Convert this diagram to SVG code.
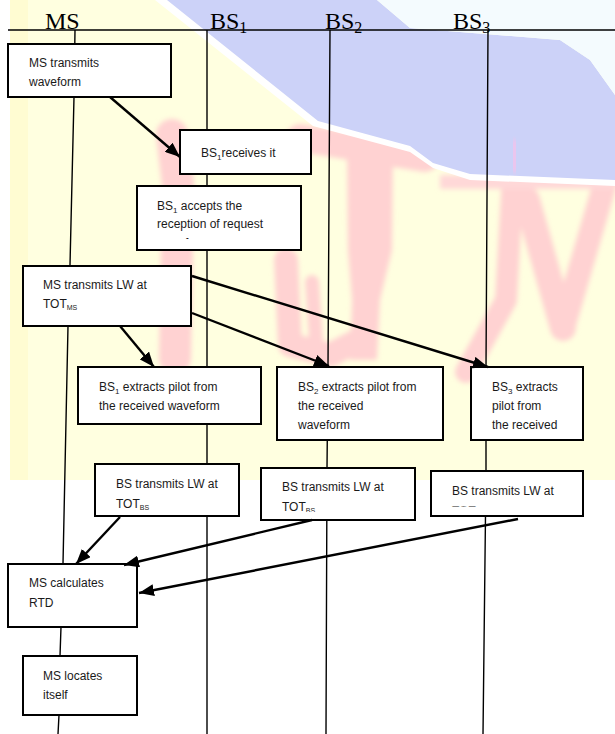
<svg xmlns="http://www.w3.org/2000/svg" width="615" height="734" viewBox="0 0 615 734">
<style>
.t{font-family:"Liberation Sans",Arial,sans-serif;font-size:12px;fill:#1a1a1a}
.h{font-family:"Liberation Serif","Times New Roman",serif;font-size:24px;fill:#000}
.hs{font-size:16px}
.box{fill:#fff;stroke:#000;stroke-width:2}
.life{fill:none;stroke:#000;stroke-width:1.4}
.arr{fill:none;stroke:#000;stroke-width:2.4;marker-end:url(#ah)}
.pk{fill:none;stroke:#FFD2D2;stroke-linejoin:round;stroke-linecap:round}
</style>
<defs>
<marker id="ah" markerUnits="userSpaceOnUse" markerWidth="15" markerHeight="12" refX="15" refY="6" orient="auto">
<path d="M0,0 L15,6 L0,12 z" fill="#000"/>
</marker>
<filter id="soft" x="-10%" y="-10%" width="120%" height="120%"><feGaussianBlur stdDeviation="2.5"/></filter>
<clipPath id="c3"><rect x="130" y="180" width="180" height="59"/></clipPath>
<clipPath id="c8"><rect x="90" y="470" width="160" height="40"/></clipPath>
<clipPath id="c9"><rect x="255" y="470" width="160" height="42"/></clipPath>
<clipPath id="c10"><rect x="425" y="470" width="160" height="36.5"/></clipPath>
</defs>

<g id="watermark">
<rect x="10" y="0" width="605" height="480" fill="#FFFFE0"/>
<rect x="10" y="0" width="18" height="480" fill="#FFFCD2"/>
<g filter="url(#soft)">
<polyline class="pk" points="172,135 178,185 175,358" stroke-width="32"/>
<polyline class="pk" points="300,138 425,158" stroke-width="28"/>
<polygon points="347,150 393,150 392,250 380,300 377,360 350,360 352,300 348,250" fill="#FFD2D2"/>
<polyline class="pk" points="286,260 290,345 330,355 355,342" stroke-width="24"/>
<polyline class="pk" points="312,282 316,340" stroke-width="14"/>
<polyline class="pk" points="515,140 506,300 466,372" stroke-width="22"/>
<polyline class="pk" points="527,200 563,328" stroke-width="26"/>
<polyline class="pk" points="563,328 606,180" stroke-width="24"/>
<rect x="440" y="175" width="175" height="14" fill="#FFD8D8"/>
</g>
<polygon points="155,0 377,0 410,28 560,40 590,60 615,95 615,186 470,180 433,168 410,152 313,126" fill="#FFFFFF"/>
<polygon points="167,0 377,0 410,28 560,40 590,60 615,95 615,180 470,174 433,163 410,146 318,121" fill="#CCD2F8"/>
<polygon points="377,0 615,0 615,95 590,60 560,40 410,28" fill="#F4FBFE"/>
<polyline points="515,140 514,172" stroke="#EAC6EE" stroke-width="18" fill="none" filter="url(#soft)"/>
</g>

<g id="header">
<line x1="8" y1="30" x2="615" y2="30" stroke="#000" stroke-width="1.6"/>
<text class="h" x="45" y="29">MS</text>
<text class="h" x="210" y="29">BS<tspan class="hs" dy="4">1</tspan></text>
<text class="h" x="325" y="29">BS<tspan class="hs" dy="4">2</tspan></text>
<text class="h" x="453" y="29">BS<tspan class="hs" dy="4">3</tspan></text>
</g>

<g id="lifelines">
<polyline class="life" points="75,30 74,97 70,265 68,326 63,564 61,627 60,656 59,715 58,734"/>
<polyline class="life" points="207,30 207,734"/>
<polyline class="life" points="330,30 328,367 327,468 326,734"/>
<polyline class="life" points="488,30 486,367 486,471 483,734"/>
</g>

<g id="n1">
<rect class="box" x="8" y="44" width="163" height="53"/>
<text class="t" x="29" y="67">MS transmits</text>
<text class="t" x="29" y="86">waveform</text>
</g>
<g id="n2">
<rect class="box" x="180" y="130" width="131" height="44"/>
<text class="t" x="201" y="157">BS<tspan font-size="8" dy="3">1</tspan><tspan dy="-3">receives it</tspan></text>
</g>
<g id="n3">
<rect class="box" x="137" y="186" width="164" height="64"/>
<text class="t" x="157" y="210">BS<tspan font-size="8" dy="3">1</tspan><tspan dy="-3"> accepts the</tspan></text>
<text class="t" x="157" y="228">reception of request</text>
<text class="t" x="157" y="247" clip-path="url(#c3)">waveform</text>
</g>
<g id="n4">
<rect class="box" x="23" y="266" width="168" height="60"/>
<text class="t" x="43" y="289">MS transmits LW at</text>
<text class="t" x="43" y="308">TOT<tspan font-size="7" dy="2">MS</tspan></text>
</g>
<g id="n5">
<rect class="box" x="78" y="367" width="183" height="57"/>
<text class="t" x="99" y="391">BS<tspan font-size="8" dy="3">1</tspan><tspan dy="-3"> extracts pilot from</tspan></text>
<text class="t" x="99" y="410">the received waveform</text>
</g>
<g id="n6">
<rect class="box" x="277" y="367" width="166" height="73"/>
<text class="t" x="298" y="391">BS<tspan font-size="8" dy="3">2</tspan><tspan dy="-3"> extracts pilot from</tspan></text>
<text class="t" x="298" y="410">the received</text>
<text class="t" x="298" y="429">waveform</text>
</g>
<g id="n7">
<rect class="box" x="471" y="367" width="112" height="73"/>
<text class="t" x="492" y="391">BS<tspan font-size="8" dy="3">3</tspan><tspan dy="-3"> extracts</tspan></text>
<text class="t" x="492" y="410">pilot from</text>
<text class="t" x="492" y="429">the received</text>
</g>
<g id="n8">
<rect class="box" x="95" y="464" width="144" height="52"/>
<text class="t" x="116" y="488">BS transmits LW at</text>
<text class="t" x="116" y="508" clip-path="url(#c8)">TOT<tspan font-size="7" dy="2">BS</tspan></text>
</g>
<g id="n9">
<rect class="box" x="261" y="468" width="154" height="52"/>
<text class="t" x="282" y="491">BS transmits LW at</text>
<text class="t" x="282" y="511" clip-path="url(#c9)">TOT<tspan font-size="7" dy="2">BS</tspan></text>
</g>
<g id="n10">
<rect class="box" x="431" y="471" width="152" height="45"/>
<text class="t" x="452" y="495">BS transmits LW at</text>
<text class="t" x="452" y="514.5" clip-path="url(#c10)">TOT<tspan font-size="7" dy="2">BS</tspan></text>
</g>
<g id="n11">
<rect class="box" x="8" y="564" width="129" height="63"/>
<text class="t" x="29" y="587">MS calculates</text>
<text class="t" x="29" y="607">RTD</text>
</g>
<g id="n12">
<rect class="box" x="23" y="656" width="114" height="59"/>
<text class="t" x="43" y="680">MS locates</text>
<text class="t" x="43" y="699">itself</text>
</g>

<g id="connectors">
<line class="arr" x1="110" y1="97" x2="180" y2="157"/>
<line class="arr" x1="120" y1="326" x2="154" y2="367"/>
<line class="arr" x1="192" y1="313" x2="329" y2="366"/>
<line class="arr" x1="192" y1="276" x2="488" y2="367"/>
<line class="arr" x1="120" y1="517" x2="76" y2="564"/>
<line class="arr" x1="312" y1="520" x2="124" y2="565"/>
<line class="arr" x1="518" y1="519" x2="139" y2="593"/>
</g>
</svg>
